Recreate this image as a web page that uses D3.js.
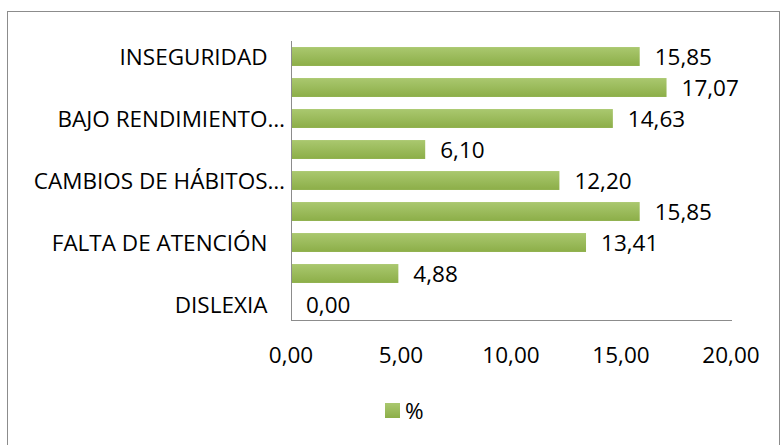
<!DOCTYPE html>
<html>
<head>
<meta charset="utf-8">
<script src="https://cdn.jsdelivr.net/npm/d3@7"></script>
<style>
  body { margin: 0; background: #fff; }
  text { font-family: "Open Sans", sans-serif; fill: #000; white-space: pre; }
</style>
</head>
<body>
<div id="chart"></div>
<script>
// Data (top to bottom). Only every other category label is shown in the original.
const categories = ["INSEGURIDAD   ", "", "BAJO RENDIMIENTO…", "", "CAMBIOS DE HÁBITOS…", "", "FALTA DE ATENCIÓN   ", "", "DISLEXIA   "];
const values = [15.85, 17.07, 14.63, 6.10, 12.20, 15.85, 13.41, 4.88, 0.00];
const xTicks = [0, 5, 10, 15, 20];
const seriesName = "%";

const width = 781, height = 445;
const fontSize = "22.5px";
const fmt = v => v.toFixed(2).replace(".", ",");

const svg = d3.select("#chart")
    .append("svg")
    .attr("width", width)
    .attr("height", height);

// Gradient for bars
const defs = svg.append("defs");
const grad = defs.append("linearGradient")
    .attr("id", "barGrad")
    .attr("x1", 0).attr("y1", 0).attr("x2", 0).attr("y2", 1);
grad.append("stop").attr("offset", "0%").attr("stop-color", "#aac86f");
grad.append("stop").attr("offset", "100%").attr("stop-color", "#8cae48");

// Chart border
svg.append("rect")
    .attr("x", 7.5).attr("y", 11.5)
    .attr("width", 772).attr("height", 440)
    .attr("fill", "none")
    .attr("stroke", "#8c8c8c");

// Scales
const xScale = d3.scaleLinear().domain([0, 20]).range([291, 731]);
const yScale = d3.scaleBand()
    .domain(d3.range(categories.length))
    .range([41, 320])
    .paddingInner(0.39)
    .paddingOuter(0.195);

// Bars
svg.selectAll(".bar")
    .data(values)
    .enter()
    .append("rect")
    .attr("class", "bar")
    .attr("x", xScale(0))
    .attr("y", (d, i) => yScale(i))
    .attr("width", d => xScale(d) - xScale(0))
    .attr("height", yScale.bandwidth())
    .attr("fill", "url(#barGrad)");

// Value labels
svg.selectAll(".value")
    .data(values)
    .enter()
    .append("text")
    .attr("class", "value")
    .attr("x", d => xScale(d) + 15)
    .attr("y", (d, i) => yScale(i) + yScale.bandwidth() / 2)
    .attr("dy", "0.36em")
    .style("font-size", fontSize)
    .text(d => fmt(d));

// Axes lines
svg.append("line")
    .attr("x1", xScale(0) + 0.5).attr("x2", xScale(0) + 0.5)
    .attr("y1", 41).attr("y2", 320)
    .attr("stroke", "#8c8c8c");
svg.append("line")
    .attr("x1", xScale(0)).attr("x2", xScale(20) + 1)
    .attr("y1", 320.5).attr("y2", 320.5)
    .attr("stroke", "#8c8c8c");

// Category labels
svg.selectAll(".cat")
    .data(categories)
    .enter()
    .append("text")
    .attr("class", "cat")
    .attr("x", 285)
    .attr("y", (d, i) => yScale(i) + yScale.bandwidth() / 2)
    .attr("dy", "0.36em")
    .attr("text-anchor", "end")
    .style("font-size", fontSize)
    .text(d => d);

// X tick labels
svg.selectAll(".tick-label")
    .data(xTicks)
    .enter()
    .append("text")
    .attr("class", "tick-label")
    .attr("x", d => xScale(d))
    .attr("y", 355)
    .attr("dy", "0.36em")
    .attr("text-anchor", "middle")
    .style("font-size", fontSize)
    .text(d => fmt(d));

// Legend
const legend = svg.append("g").attr("transform", "translate(385,403)");
legend.append("rect")
    .attr("width", 15).attr("height", 15)
    .attr("fill", "url(#barGrad)");
legend.append("text")
    .attr("x", 20).attr("y", 7.5)
    .attr("dy", "0.36em")
    .style("font-size", fontSize)
    .text(seriesName);
</script>
</body>
</html>
